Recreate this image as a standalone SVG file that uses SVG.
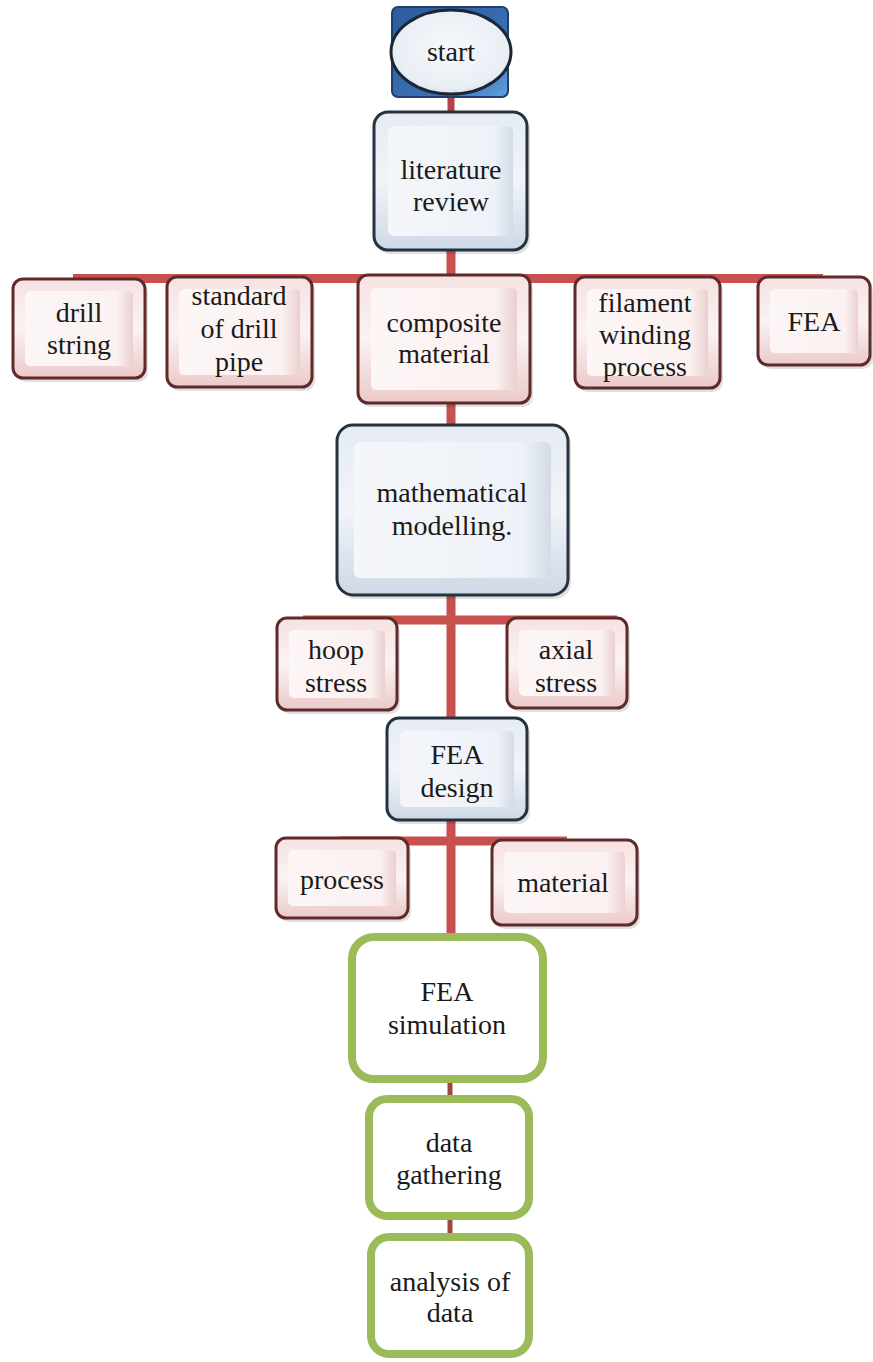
<svg xmlns="http://www.w3.org/2000/svg" width="873" height="1362" viewBox="0 0 873 1362">
<defs>
<linearGradient id="pinkG" x1="0" y1="0" x2="0" y2="1">
<stop offset="0" stop-color="#f6e2e2"/><stop offset="0.5" stop-color="#fbf2f2"/><stop offset="1" stop-color="#ecc9c9"/>
</linearGradient>
<linearGradient id="pinkIn" x1="0" y1="0" x2="1" y2="0">
<stop offset="0" stop-color="#fdf6f6"/><stop offset="0.85" stop-color="#fbf1f1"/><stop offset="1" stop-color="#ead0d0"/>
</linearGradient>
<linearGradient id="blueG" x1="0" y1="0" x2="0" y2="1">
<stop offset="0" stop-color="#e6ebf3"/><stop offset="0.5" stop-color="#f1f4f9"/><stop offset="1" stop-color="#cfd8e6"/>
</linearGradient>
<linearGradient id="blueIn" x1="0" y1="0" x2="1" y2="0">
<stop offset="0" stop-color="#f4f6fa"/><stop offset="0.85" stop-color="#eef2f8"/><stop offset="1" stop-color="#d3dbe7"/>
</linearGradient>
<linearGradient id="startSq" x1="0" y1="0" x2="1" y2="1">
<stop offset="0" stop-color="#2c5c9c"/><stop offset="0.7" stop-color="#3b6fb5"/><stop offset="1" stop-color="#5fa3e0"/>
</linearGradient>
<radialGradient id="startEl" cx="0.5" cy="0.45" r="0.6">
<stop offset="0" stop-color="#f6f8fb"/><stop offset="0.8" stop-color="#e9eef5"/><stop offset="1" stop-color="#cfd9e7"/>
</radialGradient>
</defs>
<style>
.t{font-family:"Liberation Serif","Times New Roman",serif;font-size:28px;fill:#1a1a1a;text-anchor:middle}
.pink{fill:url(#pinkG);stroke:#5e2a2a;stroke-width:3}
.pinkIn{fill:url(#pinkIn);stroke:none}
.blue{fill:url(#blueG);stroke:#24333f;stroke-width:3}
.blueIn{fill:url(#blueIn);stroke:none}
.green{fill:#ffffff;stroke:#9bbb59;stroke-width:8}
.shadow{fill:#000;opacity:0.12}
.bar{stroke:#c8504e;stroke-width:9;fill:none}
.thin{stroke:#9c4a3e;stroke-width:5;fill:none}
</style>
<rect width="873" height="1362" fill="#ffffff"/>
<g id="connectors">
<line class="bar" x1="451" y1="95" x2="451" y2="114" style="stroke-width:7;stroke:#b0464a"/>
<line class="bar" x1="451" y1="250" x2="451" y2="277"/>
<line class="bar" x1="73" y1="278.5" x2="823" y2="278.5"/>
<line class="bar" x1="451" y1="403" x2="451" y2="426"/>
<line class="bar" x1="451" y1="595" x2="451" y2="719"/>
<line class="bar" x1="303" y1="620" x2="617" y2="620"/>
<line class="bar" x1="451" y1="820" x2="451" y2="934"/>
<line class="bar" x1="340" y1="841" x2="567" y2="841"/>
<line class="thin" x1="450" y1="1083" x2="450" y2="1096"/>
<line class="thin" x1="450" y1="1220" x2="450" y2="1234"/>
</g>
<g id="start">
<rect x="392" y="7" width="116" height="90" rx="6" fill="url(#startSq)" stroke="#1f3f6a" stroke-width="2"/>
<ellipse cx="451" cy="52" rx="60" ry="42" fill="url(#startEl)" stroke="#1c2733" stroke-width="3"/>
<text class="t" x="451" y="61">start</text>
</g>
<g id="literature-review">
<rect class="shadow" x="377" y="116" width="153" height="138" rx="14"/>
<rect class="blue" x="374" y="112" width="153" height="138" rx="14"/>
<rect class="blueIn" x="388" y="126" width="125" height="110" rx="6"/>
<text class="t" x="451" y="179">literature</text>
<text class="t" x="451" y="211">review</text>
</g>
<g id="drill-string">
<rect class="shadow" x="16" y="283" width="132" height="99" rx="10"/>
<rect class="pink" x="13" y="279" width="132" height="99" rx="10"/>
<rect class="pinkIn" x="25" y="291" width="108" height="75" rx="5"/>
<text class="t" x="79" y="322">drill</text>
<text class="t" x="79" y="354">string</text>
</g>
<g id="standard-of-drill-pipe">
<rect class="shadow" x="170" y="281" width="145" height="110" rx="10"/>
<rect class="pink" x="167" y="277" width="145" height="110" rx="10"/>
<rect class="pinkIn" x="179" y="289" width="121" height="86" rx="5"/>
<text class="t" x="239" y="305">standard</text>
<text class="t" x="239" y="338">of drill</text>
<text class="t" x="239" y="371">pipe</text>
</g>
<g id="composite-material">
<rect class="shadow" x="361" y="279" width="172" height="128" rx="10"/>
<rect class="pink" x="358" y="275" width="172" height="128" rx="10"/>
<rect class="pinkIn" x="371" y="288" width="146" height="102" rx="5"/>
<text class="t" x="444" y="332">composite</text>
<text class="t" x="444" y="363">material</text>
</g>
<g id="filament-winding-process">
<rect class="shadow" x="578" y="281" width="145" height="111" rx="10"/>
<rect class="pink" x="575" y="277" width="145" height="111" rx="10"/>
<rect class="pinkIn" x="587" y="289" width="121" height="87" rx="5"/>
<text class="t" x="645" y="312">filament</text>
<text class="t" x="645" y="344">winding</text>
<text class="t" x="645" y="376">process</text>
</g>
<g id="fea">
<rect class="shadow" x="761" y="281" width="112" height="88" rx="10"/>
<rect class="pink" x="758" y="277" width="112" height="88" rx="10"/>
<rect class="pinkIn" x="770" y="289" width="88" height="64" rx="5"/>
<text class="t" x="814" y="331">FEA</text>
</g>
<g id="mathematical-modelling">
<rect class="shadow" x="340" y="429" width="231" height="170" rx="16"/>
<rect class="blue" x="337" y="425" width="231" height="170" rx="16"/>
<rect class="blueIn" x="354" y="442" width="197" height="136" rx="6"/>
<text class="t" x="452" y="502">mathematical</text>
<text class="t" x="452" y="535">modelling.</text>
</g>
<g id="hoop-stress">
<rect class="shadow" x="280" y="622" width="120" height="92" rx="10"/>
<rect class="pink" x="277" y="618" width="120" height="92" rx="10"/>
<rect class="pinkIn" x="289" y="630" width="96" height="68" rx="5"/>
<text class="t" x="336" y="659">hoop</text>
<text class="t" x="336" y="692">stress</text>
</g>
<g id="axial-stress">
<rect class="shadow" x="510" y="622" width="120" height="90" rx="10"/>
<rect class="pink" x="507" y="618" width="120" height="90" rx="10"/>
<rect class="pinkIn" x="519" y="630" width="96" height="66" rx="5"/>
<text class="t" x="566" y="659">axial</text>
<text class="t" x="566" y="692">stress</text>
</g>
<g id="fea-design">
<rect class="shadow" x="390" y="722" width="140" height="102" rx="12"/>
<rect class="blue" x="387" y="718" width="140" height="102" rx="12"/>
<rect class="blueIn" x="400" y="731" width="114" height="76" rx="5"/>
<text class="t" x="457" y="764">FEA</text>
<text class="t" x="457" y="797">design</text>
</g>
<g id="process">
<rect class="shadow" x="279" y="842" width="132" height="80" rx="10"/>
<rect class="pink" x="276" y="838" width="132" height="80" rx="10"/>
<rect class="pinkIn" x="288" y="850" width="108" height="56" rx="5"/>
<text class="t" x="342" y="889">process</text>
</g>
<g id="material">
<rect class="shadow" x="495" y="844" width="145" height="85" rx="10"/>
<rect class="pink" x="492" y="840" width="145" height="85" rx="10"/>
<rect class="pinkIn" x="504" y="852" width="121" height="61" rx="5"/>
<text class="t" x="563" y="892">material</text>
</g>
<g id="fea-simulation">
<rect class="green" x="352" y="937" width="191" height="142" rx="22"/>
<text class="t" x="447" y="1001">FEA</text>
<text class="t" x="447" y="1034">simulation</text>
</g>
<g id="data-gathering">
<rect class="green" x="369" y="1099" width="160" height="117" rx="18"/>
<text class="t" x="449" y="1152">data</text>
<text class="t" x="449" y="1184">gathering</text>
</g>
<g id="analysis-of-data">
<rect class="green" x="371" y="1237" width="158" height="117" rx="18"/>
<text class="t" x="450" y="1291">analysis of</text>
<text class="t" x="450" y="1322">data</text>
</g>
</svg>
